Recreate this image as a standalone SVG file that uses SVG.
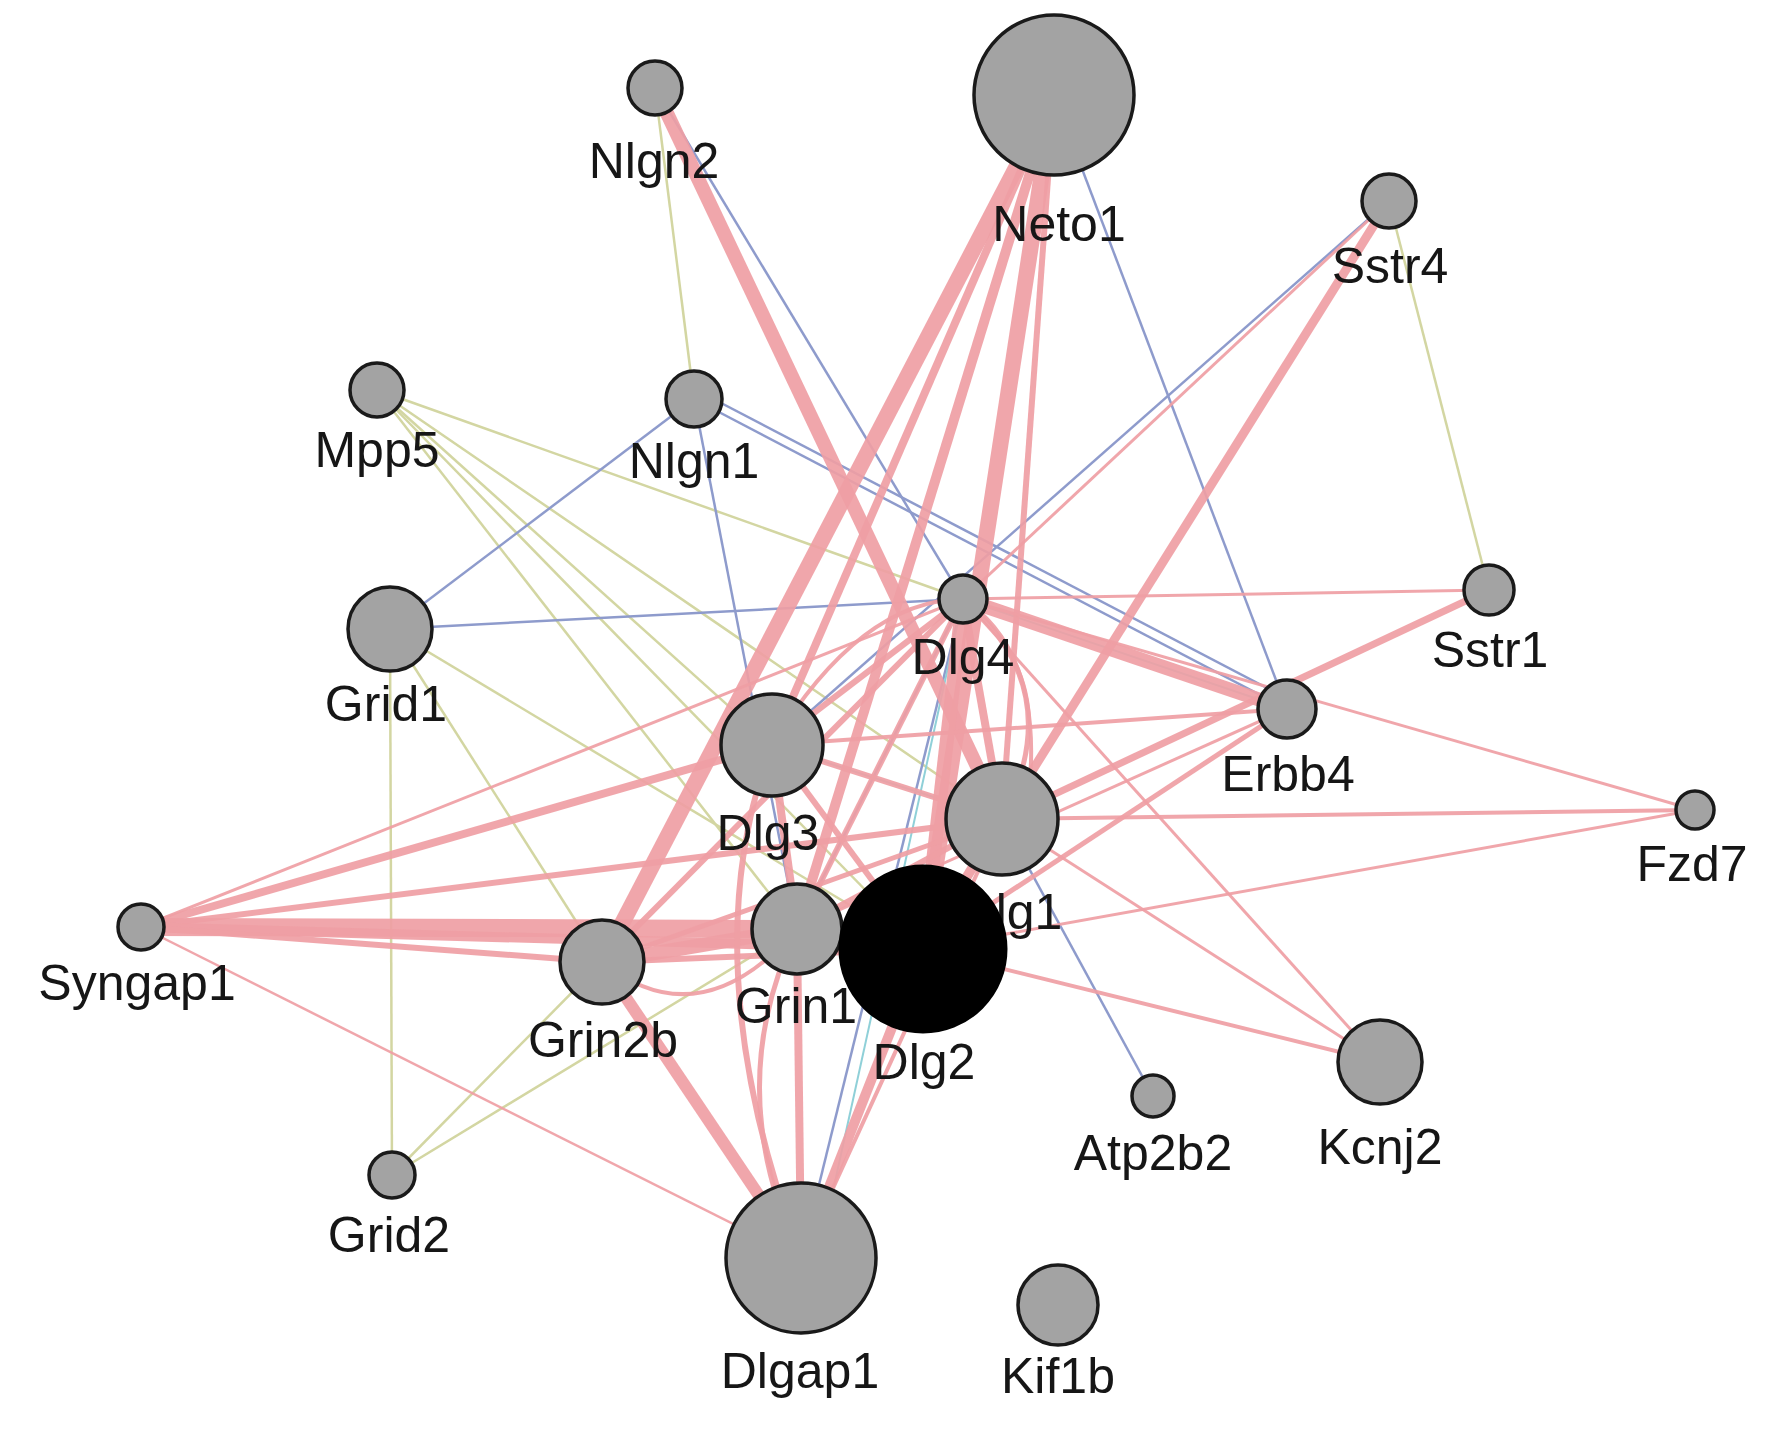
<svg xmlns="http://www.w3.org/2000/svg" width="1772" height="1446" viewBox="0 0 1772 1446">
<style>
.p{stroke:#ef9ea4;fill:none;stroke-opacity:0.92}
.b{stroke:#8e9bcc;fill:none;stroke-width:2.5}
.y{stroke:#d3d6a2;fill:none;stroke-width:2.5}
.t{stroke:#8fd0d8;fill:none;stroke-width:2}
.n{fill:#a3a3a3;stroke:#1a1a1a;stroke-width:3.5}
.k{fill:#000;stroke:#000;stroke-width:3}
text{font-family:"Liberation Sans",Arial,sans-serif;font-size:50px;fill:#161616;text-anchor:middle}
</style>
<rect width="1772" height="1446" fill="#fff"/>
<g id="connectors">
<!-- yellow -->
<line class="y" x1="655" y1="88" x2="694" y2="399"/>
<line class="y" x1="1389" y1="201" x2="1489" y2="590"/>
<line class="y" x1="377" y1="390" x2="963" y2="599"/>
<line class="y" x1="377" y1="390" x2="1002" y2="819"/>
<line class="y" x1="377" y1="390" x2="923" y2="949"/>
<line class="y" x1="377" y1="390" x2="797" y2="929"/>
<line class="y" x1="377" y1="390" x2="772" y2="745"/>
<line class="y" x1="390" y1="629" x2="392" y2="1175"/>
<line class="y" x1="390" y1="629" x2="602" y2="962"/>
<line class="y" x1="390" y1="629" x2="923" y2="949"/>
<line class="y" x1="392" y1="1175" x2="602" y2="962"/>
<line class="y" x1="392" y1="1175" x2="797" y2="929"/>
<!-- blue -->
<line class="b" x1="655" y1="88" x2="963" y2="599"/>
<line class="b" x1="1054" y1="95" x2="1287" y2="709"/>
<line class="b" x1="1389" y1="201" x2="772" y2="745"/>
<line class="b" x1="694" y1="399" x2="390" y2="629"/>
<line class="b" x1="694" y1="399" x2="1287" y2="709"/>
<line class="b" x1="700" y1="392" x2="1290" y2="700"/>
<line class="b" x1="694" y1="399" x2="797" y2="929"/>
<line class="b" x1="390" y1="629" x2="963" y2="599"/>
<line class="b" x1="963" y1="599" x2="801" y2="1258"/>
<line class="b" x1="963" y1="599" x2="797" y2="929"/>
<line class="b" x1="1002" y1="819" x2="1153" y2="1096"/>
<!-- teal -->
<line class="t" x1="963" y1="599" x2="820" y2="1250"/>
<line class="t" x1="772" y1="745" x2="1002" y2="819"/>
<line class="t" x1="963" y1="599" x2="1287" y2="709"/>
<!-- pink -->
<line class="p" stroke-width="14" x1="655" y1="88" x2="1002" y2="819"/>
<line class="p" stroke-width="16" x1="1054" y1="95" x2="602" y2="962"/>
<line class="p" stroke-width="8" x1="1054" y1="95" x2="772" y2="745"/>
<line class="p" stroke-width="10" x1="1054" y1="95" x2="797" y2="929"/>
<line class="p" stroke-width="16" x1="1054" y1="95" x2="923" y2="949"/>
<line class="p" stroke-width="6" x1="1054" y1="95" x2="1002" y2="819"/>
<line class="p" stroke-width="9" x1="1389" y1="201" x2="1002" y2="819"/>
<line class="p" stroke-width="3" x1="1389" y1="201" x2="963" y2="599"/>
<line class="p" stroke-width="3" x1="963" y1="599" x2="1489" y2="590"/>
<line class="p" stroke-width="7" x1="1489" y1="590" x2="1002" y2="819"/>
<line class="p" stroke-width="14" x1="963" y1="599" x2="1287" y2="709"/>
<line class="p" stroke-width="4" x1="772" y1="745" x2="1287" y2="709"/>
<line class="p" stroke-width="3" x1="963" y1="599" x2="1695" y2="810"/>
<line class="p" stroke-width="4" x1="1002" y1="819" x2="1695" y2="810"/>
<line class="p" stroke-width="3" x1="923" y1="949" x2="1695" y2="810"/>
<line class="p" stroke-width="5" x1="1287" y1="709" x2="923" y2="949"/>
<line class="p" stroke-width="3" x1="1287" y1="709" x2="797" y2="929"/>
<line class="p" stroke-width="3" x1="1380" y1="1062" x2="1002" y2="819"/>
<line class="p" stroke-width="4" x1="1380" y1="1062" x2="923" y2="949"/>
<line class="p" stroke-width="3" x1="1380" y1="1062" x2="963" y2="599"/>
<line class="p" stroke-width="3" x1="141" y1="927" x2="963" y2="599"/>
<line class="p" stroke-width="8" x1="141" y1="927" x2="772" y2="745"/>
<line class="p" stroke-width="6" x1="141" y1="927" x2="1002" y2="819"/>
<line class="p" stroke-width="18" x1="141" y1="927" x2="797" y2="929"/>
<line class="p" stroke-width="10" x1="141" y1="927" x2="923" y2="949"/>
<line class="p" stroke-width="6" x1="141" y1="927" x2="602" y2="962"/>
<line class="p" stroke-width="2.5" x1="141" y1="927" x2="801" y2="1258"/>
<line class="p" stroke-width="14" x1="602" y1="962" x2="797" y2="929"/>
<line class="p" stroke-width="6" x1="602" y1="962" x2="923" y2="949"/>
<line class="p" stroke-width="12" x1="602" y1="962" x2="801" y2="1258"/>
<line class="p" stroke-width="8" x1="797" y1="929" x2="801" y2="1258"/>
<line class="p" stroke-width="10" x1="923" y1="949" x2="801" y2="1258"/>
<line class="p" stroke-width="4" x1="1002" y1="819" x2="801" y2="1258"/>
<line class="p" stroke-width="6" x1="772" y1="745" x2="963" y2="599"/>
<line class="p" stroke-width="6" x1="772" y1="745" x2="1002" y2="819"/>
<line class="p" stroke-width="8" x1="772" y1="745" x2="797" y2="929"/>
<line class="p" stroke-width="6" x1="772" y1="745" x2="923" y2="949"/>
<line class="p" stroke-width="8" x1="963" y1="599" x2="1002" y2="819"/>
<line class="p" stroke-width="14" x1="963" y1="599" x2="923" y2="949"/>
<line class="p" stroke-width="6" x1="963" y1="599" x2="797" y2="929"/>
<line class="p" stroke-width="6" x1="797" y1="929" x2="1002" y2="819"/>
<line class="p" stroke-width="10" x1="797" y1="929" x2="923" y2="949"/>
<line class="p" stroke-width="10" x1="1002" y1="819" x2="923" y2="949"/>
<line class="p" stroke-width="6" x1="963" y1="599" x2="602" y2="962"/>
<line class="p" stroke-width="5" x1="1002" y1="819" x2="602" y2="962"/>
<path class="p" stroke-width="5" d="M963,599 Q1070,690 1002,819"/>
<path class="p" stroke-width="4" d="M963,599 Q1040,650 1030,780"/>
<path class="p" stroke-width="6" d="M772,745 Q690,960 801,1258"/>
<path class="p" stroke-width="5" d="M797,929 Q720,1090 801,1258"/>
<path class="p" stroke-width="4" d="M772,745 Q860,600 963,599"/>
<path class="p" stroke-width="4" d="M602,962 Q700,1040 797,929"/>
</g>
<g id="node-nlgn2"><circle class="n" cx="655" cy="88" r="27"/><text x="654" y="178">Nlgn2</text></g>
<g id="node-neto1"><circle class="n" cx="1054" cy="95" r="80"/><text x="1059" y="241">Neto1</text></g>
<g id="node-sstr4"><circle class="n" cx="1389" cy="201" r="27"/><text x="1390" y="283">Sstr4</text></g>
<g id="node-mpp5"><circle class="n" cx="377" cy="390" r="27"/><text x="377" y="467">Mpp5</text></g>
<g id="node-nlgn1"><circle class="n" cx="694" cy="399" r="28"/><text x="694" y="478">Nlgn1</text></g>
<g id="node-grid1"><circle class="n" cx="390" cy="629" r="42"/><text x="386" y="721">Grid1</text></g>
<g id="node-dlg4"><circle class="n" cx="963" cy="599" r="24"/><text x="963" y="674">Dlg4</text></g>
<g id="node-sstr1"><circle class="n" cx="1489" cy="590" r="25"/><text x="1490" y="667">Sstr1</text></g>
<g id="node-erbb4"><circle class="n" cx="1287" cy="709" r="29"/><text x="1288" y="791">Erbb4</text></g>
<g id="node-dlg3"><circle class="n" cx="772" cy="745" r="51"/><text x="768" y="850">Dlg3</text></g>
<g id="node-fzd7"><circle class="n" cx="1695" cy="810" r="19"/><text x="1692" y="881">Fzd7</text></g>
<g id="node-syngap1"><circle class="n" cx="141" cy="927" r="23"/><text x="137" y="1000">Syngap1</text></g>
<g id="node-dlg1"><circle class="n" cx="1002" cy="819" r="56"/><text x="1011" y="929">Dlg1</text></g>
<g id="node-grin1"><circle class="n" cx="797" cy="929" r="45"/><text x="796" y="1023">Grin1</text></g>
<g id="node-grin2b"><circle class="n" cx="602" cy="962" r="42"/><text x="603" y="1057">Grin2b</text></g>
<g id="node-dlg2"><circle class="k" cx="923" cy="949" r="83"/><text x="924" y="1079">Dlg2</text></g>
<g id="node-atp2b2"><circle class="n" cx="1153" cy="1096" r="21"/><text x="1153" y="1170">Atp2b2</text></g>
<g id="node-kcnj2"><circle class="n" cx="1380" cy="1062" r="42"/><text x="1380" y="1164">Kcnj2</text></g>
<g id="node-grid2"><circle class="n" cx="392" cy="1175" r="23"/><text x="389" y="1252">Grid2</text></g>
<g id="node-dlgap1"><circle class="n" cx="801" cy="1258" r="75"/><text x="800" y="1388">Dlgap1</text></g>
<g id="node-kif1b"><circle class="n" cx="1058" cy="1305" r="40"/><text x="1058" y="1393">Kif1b</text></g>
</svg>
